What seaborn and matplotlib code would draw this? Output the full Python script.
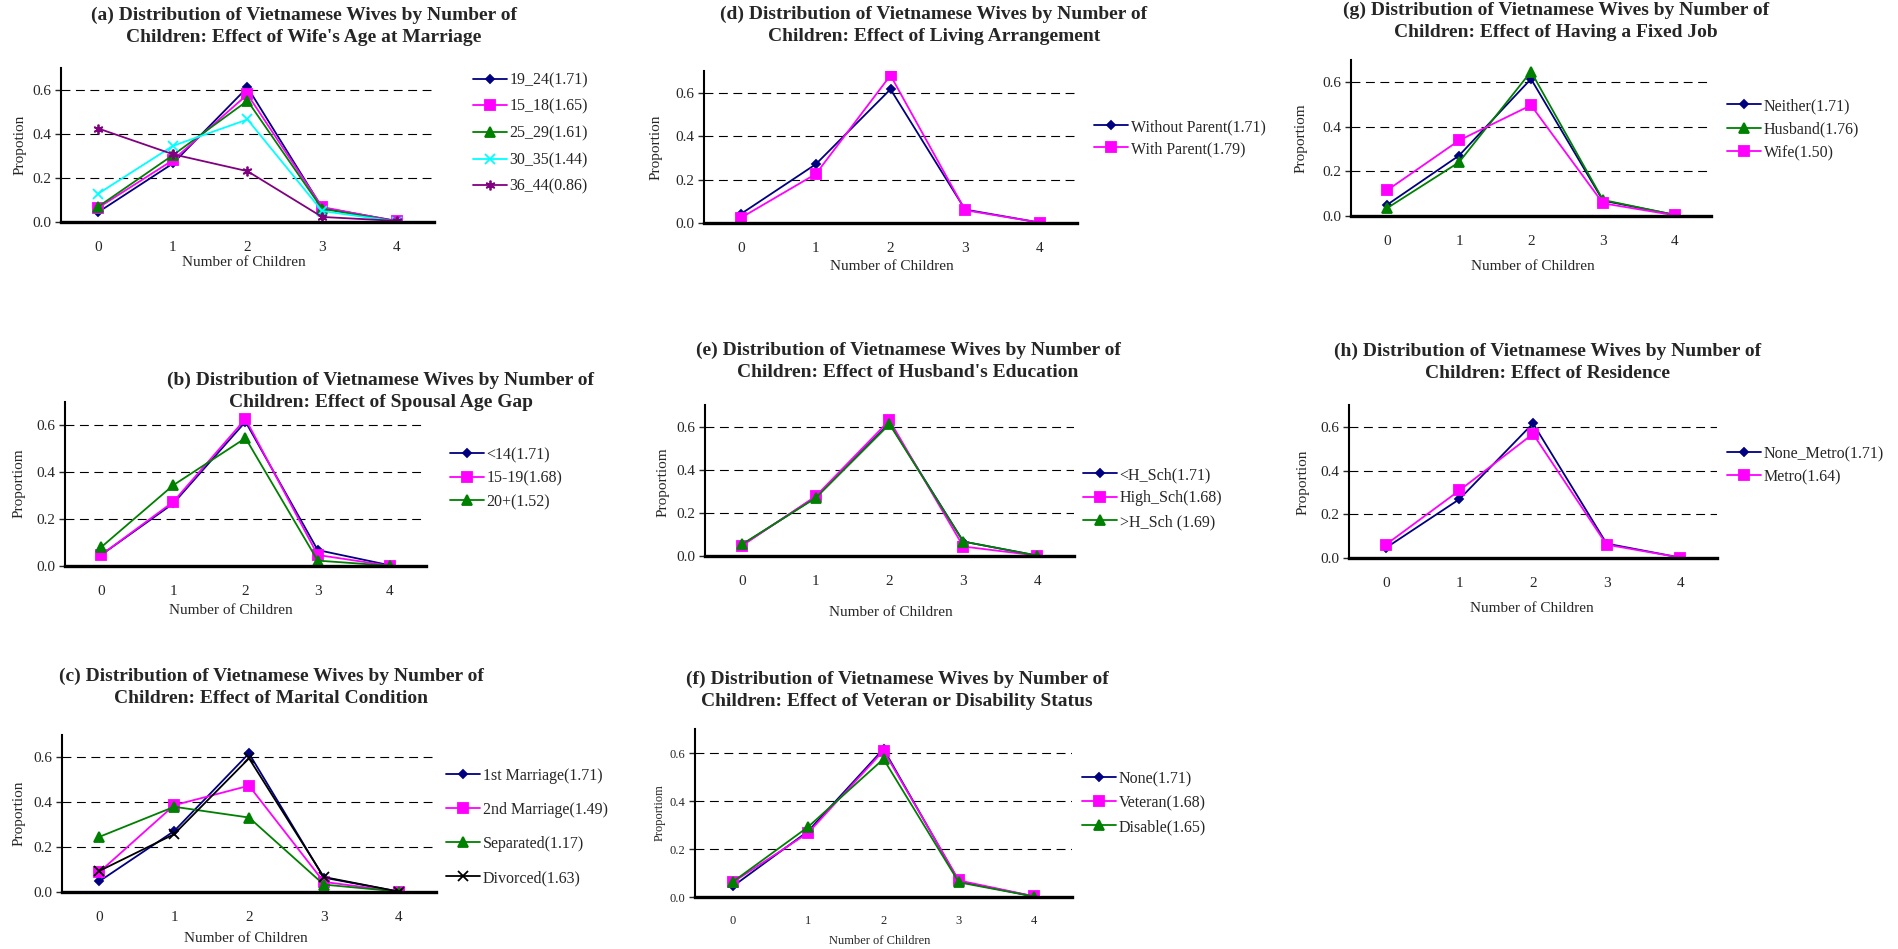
import matplotlib
matplotlib.use("Agg")
import matplotlib.pyplot as plt
import seaborn as sns

children = [0, 1, 2, 3, 4]

# (a) wife's age at marriage
a_labels = ["19_24(1.71)", "15_18(1.65)", "25_29(1.61)", "30_35(1.44)", "36_44(0.86)"]
a_19_24 = [0.045, 0.266, 0.612, 0.065, 0.005]
a_15_18 = [0.065, 0.281, 0.580, 0.068, 0.003]
a_25_29 = [0.070, 0.304, 0.551, 0.060, 0.002]
a_30_35 = [0.129, 0.346, 0.466, 0.050, 0.002]
a_36_44 = [0.425, 0.308, 0.231, 0.023, 0.005]

# (b) spousal age gap
b_labels = ["<14(1.71)", "15-19(1.68)", "20+(1.52)"]
b_lt14 = [0.047, 0.267, 0.616, 0.068, 0.003]
b_15_19 = [0.047, 0.274, 0.628, 0.047, 0.001]
b_20p = [0.080, 0.345, 0.546, 0.023, 0.001]

# (c) marital condition
c_labels = ["1st Marriage(1.71)", "2nd Marriage(1.49)", "Separated(1.17)", "Divorced(1.63)"]
c_first = [0.048, 0.272, 0.618, 0.064, 0.002]
c_second = [0.089, 0.387, 0.474, 0.045, 0.002]
c_separated = [0.246, 0.380, 0.332, 0.033, 0.002]
c_divorced = [0.094, 0.258, 0.596, 0.067, 0.002]

# (d) living arrangement
d_labels = ["Without Parent(1.71)", "With Parent(1.79)"]
d_without = [0.043, 0.271, 0.616, 0.062, 0.002]
d_with = [0.025, 0.226, 0.680, 0.059, 0.002]

# (e) husband's education
e_labels = ["<H_Sch(1.71)", "High_Sch(1.68)", ">H_Sch (1.69)"]
e_lt_hs = [0.051, 0.272, 0.615, 0.067, 0.002]
e_hs = [0.047, 0.277, 0.629, 0.044, 0.002]
e_gt_hs = [0.054, 0.269, 0.611, 0.067, 0.002]

# (f) veteran or disability status
f_labels = ["None(1.71)", "Veteran(1.68)", "Disable(1.65)"]
f_none = [0.044, 0.274, 0.617, 0.065, 0.002]
f_veteran = [0.061, 0.267, 0.610, 0.069, 0.003]
f_disable = [0.063, 0.292, 0.575, 0.061, 0.002]

# (g) having a fixed job
g_labels = ["Neither(1.71)", "Husband(1.76)", "Wife(1.50)"]
g_neither = [0.050, 0.271, 0.615, 0.069, 0.005]
g_husband = [0.035, 0.241, 0.648, 0.072, 0.005]
g_wife = [0.115, 0.339, 0.497, 0.057, 0.003]

# (h) residence
h_labels = ["None_Metro(1.71)", "Metro(1.64)"]
h_nonmetro = [0.046, 0.269, 0.616, 0.066, 0.002]
h_metro = [0.061, 0.309, 0.568, 0.061, 0.002]

HEAD = "Distribution of Vietnamese Wives by Number of\nChildren: "

# colore, marker, dimensione
STILI = {
    "navy": ("#000080", "D", 4.5),
    "magenta": ("#FF00FF", "s", 6.5),
    "green": ("#008000", "^", 6.5),
    "cyan": ("#00FFFF", "x", 6.5),
    "purple": ("#800080", (6, 2, 0), 7),
    "black": ("#000000", "x", 7),
}

# box = (left, top, right, bottom) in pixel, legenda = (x, y centro, passo)
pannelli = [
    dict(tag="(a)", effect="Effect of Wife's Age at Marriage", ylab="Propotion",
         series=list(zip(a_labels, [a_19_24, a_15_18, a_25_29, a_30_35, a_36_44],
                         ["navy", "magenta", "green", "cyan", "purple"])),
         box=(61, 68, 434, 222), title=(304, 26), legend=(473, 133.5, 26.6),
         ylpos=(20, 145), xlpos=(244, 263)),
    dict(tag="(d)", effect="Effect of Living Arrangement", ylab="Proportion",
         series=list(zip(d_labels, [d_without, d_with], ["navy", "magenta"])),
         box=(704, 71, 1077, 223), title=(934, 25), legend=(1094, 138, 22),
         ylpos=(656, 147), xlpos=(892, 267)),
    dict(tag="(g)", effect="Effect of Having a Fixed Job", ylab="Proportiom",
         series=list(zip(g_labels, [g_neither, g_husband, g_wife], ["navy", "green", "magenta"])),
         box=(1351, 60, 1711, 216), title=(1556, 21.5), legend=(1727, 129.5, 23.5),
         ylpos=(1301, 138), xlpos=(1533, 266)),
    dict(tag="(b)", effect="Effect of Spousal Age Gap", ylab="Proportiom",
         series=list(zip(b_labels, [b_lt14, b_15_19, b_20p], ["navy", "magenta", "green"])),
         box=(65, 402, 426, 566), title=(381, 391), legend=(450, 478.5, 23.5),
         ylpos=(19, 483), xlpos=(231, 611)),
    dict(tag="(e)", effect="Effect of Husband's Education", ylab="Proportiom",
         series=list(zip(e_labels, [e_lt_hs, e_hs, e_gt_hs], ["navy", "magenta", "green"])),
         box=(705, 405, 1074, 556), title=(908, 361), legend=(1083, 498.5, 23.5),
         ylpos=(663, 482), xlpos=(891, 612)),
    dict(tag="(h)", effect="Effect of Residence", ylab="Proportion",
         series=list(zip(h_labels, [h_nonmetro, h_metro], ["navy", "magenta"])),
         box=(1349, 405, 1717, 558), title=(1548, 362), legend=(1727, 465.5, 23),
         ylpos=(1303, 482), xlpos=(1532, 608)),
    dict(tag="(c)", effect="Effect of Marital Condition", ylab="Proportion",
         series=list(zip(c_labels, [c_first, c_second, c_separated, c_divorced],
                         ["navy", "magenta", "green", "black"])),
         box=(62, 735, 436, 892), title=(271, 687), legend=(446, 827, 34),
         ylpos=(19, 813), xlpos=(246, 939)),
    dict(tag="(f)", effect="Effect of Veteran or Disability Status", ylab="Proportiom",
         series=list(zip(f_labels, [f_none, f_veteran, f_disable], ["navy", "magenta", "green"])),
         box=(695, 729, 1072, 897), title=(897, 690.5), legend=(1082, 803, 24),
         ylpos=(660, 813), xlpos=(880, 941), small=True),
]

W, H = 1899, 949
FS = 11  # corpo del testo in punti
FS_LEG = 11.5
FS_LEG_PX = FS_LEG * 100 / 72

sns.set_style("white")
plt.rcParams["font.family"] = ["Liberation Serif", "DejaVu Serif"]

fig = plt.figure(figsize=(W / 100, H / 100), dpi=100)


def fx(px):
    return px / W


def fy(py):
    return 1 - py / H


for p in pannelli:
    l, t, r, b = p["box"]
    ax = fig.add_axes([fx(l), fy(b), (r - l) / W, (b - t) / H])
    for nome, valori, stile in p["series"]:
        colore, marker, ms = STILI[stile]
        sns.lineplot(x=children, y=valori, color=colore, marker=marker, markersize=ms,
                     markeredgecolor=colore, markeredgewidth=1.3, linewidth=1.3,
                     label=nome, ax=ax)

    small = p.get("small", False)
    ax.set_xlim(-0.5, 4.5)
    ax.set_ylim(0, 0.7)
    ax.set_xticks(children)
    ax.set_xticks([0.5, 1.5, 2.5, 3.5, 4.5], minor=True)
    ax.set_yticks([0, 0.2, 0.4, 0.6])
    ax.set_yticklabels(["0.0", "0.2", "0.4", "0.6"])
    ax.tick_params(axis="x", which="major", length=0, pad=13 if small else 14,
                   labelsize=9 if small else FS)
    ax.tick_params(axis="x", which="minor", direction="in", length=5, width=2)
    ax.tick_params(axis="y", direction="out", length=4, width=1, pad=3,
                   labelsize=9 if small else FS, left=True)
    ax.grid(axis="y", color="black", linestyle=(0, (8, 5)), linewidth=0.8)
    ax.set_axisbelow(True)
    for lato in ["top", "right"]:
        ax.spines[lato].set_visible(False)
    ax.spines["left"].set_linewidth(1.5)
    ax.spines["bottom"].set_linewidth(2.4)
    ax.spines["left"].set_color("black")
    ax.spines["bottom"].set_color("black")

    ax.set_xlabel("Number of Children", fontsize=9 if small else FS)
    ax.set_ylabel(p["ylab"], fontsize=9 if small else FS)
    ax.xaxis.set_label_coords(fx(p["xlpos"][0]), fy(p["xlpos"][1]), transform=fig.transFigure)
    ax.yaxis.set_label_coords(fx(p["ylpos"][0]), fy(p["ylpos"][1]), transform=fig.transFigure)
    ax.xaxis.label.set_va("center")
    ax.yaxis.label.set_va("center")

    lx, ly, passo = p["legend"]
    ax.legend(loc="center left", bbox_to_anchor=(fx(lx), fy(ly)), bbox_transform=fig.transFigure,
              frameon=False, borderpad=0, borderaxespad=0, handlelength=2.1,
              handletextpad=0.2, labelspacing=(passo - 1.0 * FS_LEG_PX) / FS_LEG_PX,
              fontsize=FS_LEG)

    fig.text(fx(p["title"][0]), fy(p["title"][1]), p["tag"] + " " + HEAD + p["effect"],
             ha="center", va="center", multialignment="center", linespacing=1.4,
             fontsize=14, fontweight="bold")

fig.savefig("out.png", dpi=100)
